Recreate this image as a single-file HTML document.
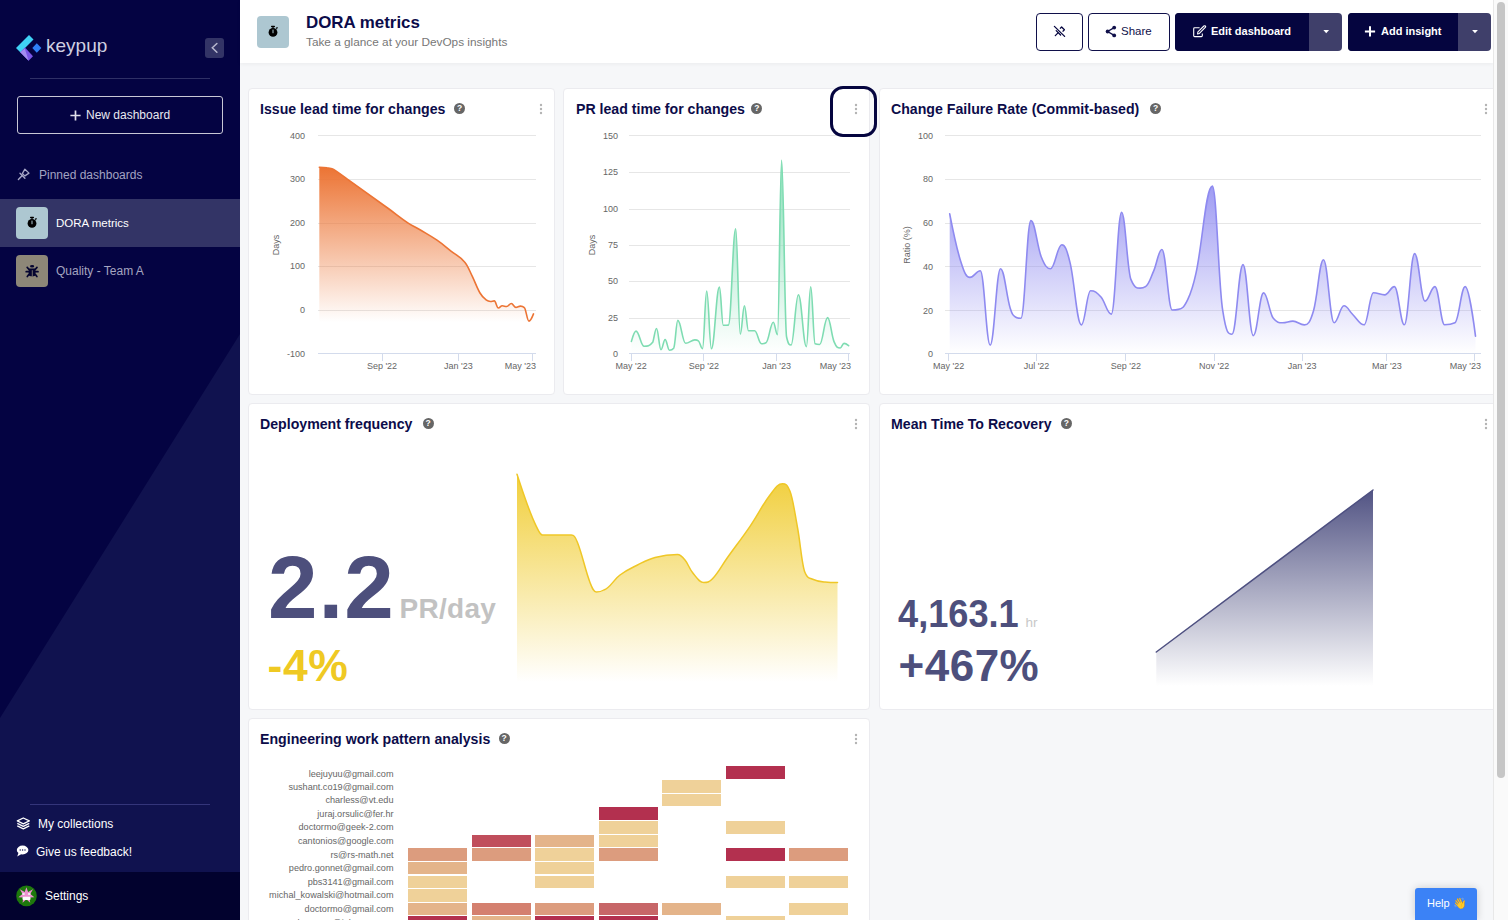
<!DOCTYPE html>
<html><head><meta charset="utf-8">
<style>
*{box-sizing:border-box;margin:0;padding:0}
html,body{width:1508px;height:920px;overflow:hidden;background:#f6f7f9;font-family:"Liberation Sans",sans-serif}
.a{position:absolute}
#sb{position:absolute;left:0;top:0;width:240px;height:920px;background:#040342;overflow:hidden}
.sbt{position:absolute;white-space:nowrap;font-size:12px;line-height:14px}
#hdr{position:absolute;left:240px;top:0;width:1253px;height:63px;background:#fff;box-shadow:0 1px 4px rgba(0,0,0,.05)}
.btn{position:absolute;top:13px;height:38px;border-radius:4px}
.card{position:absolute;background:#fff;border:1px solid #ebebef;border-radius:4px}
.ttl{position:absolute;white-space:nowrap;font-weight:bold;font-size:14.15px;color:#0c0c4a;line-height:16px}
.q{position:absolute;width:11px;height:11px;border-radius:50%;background:#666;color:#fff;font-size:8.5px;font-weight:bold;line-height:11px;text-align:center}
.lbl{position:absolute;font-size:9px;color:#666;white-space:nowrap;line-height:10px}
#scroll{position:absolute;left:1493px;top:0;width:15px;height:920px;background:#fafafa;border-left:1px solid #e8e8e8}
#thumb{position:absolute;left:1497px;top:2px;width:8px;height:776px;background:#c6c6c6;border-radius:4px}
.bt{position:absolute;top:25px;font-size:11px;line-height:13px;font-weight:bold;white-space:nowrap}
</style></head><body>

<!-- SIDEBAR -->
<div id="sb">
  <svg class="a" style="left:0;top:0" width="240" height="920">
    <polygon points="0,718 240,334 240,872 0,872" fill="#10124f"/>
  </svg>
  <!-- logo -->
  <svg class="a" style="left:0;top:0" width="120" height="70">
    <polygon points="16,48 29,35 33.5,39.5 20.5,52.5" fill="#3fd2f5"/>
    <polygon points="16,48 20.5,52.5 23,52 21,51 29,44 33.5,48.5 25,57" fill="none"/>
    <polygon points="16,48 25,57 29,53 20.5,44.5" fill="none"/>
    <polygon points="20.2,52.3 25,47.6 33,56.3 28.6,60.8" fill="#7a55e6"/>
    <polygon points="20.2,52.3 24.8,48.4 28.6,60.8" fill="#a48cf2"/>
    <polygon points="16,48 20.5,52.5 29,44 24.5,39.5" fill="#4fb8f2" opacity=".0"/>
    <polygon points="32.3,48 36.8,43.2 41.4,48 36.8,52.7" fill="#2f7ff6"/>
  </svg>
  <div class="sbt" style="left:46px;top:34px;font-size:19px;line-height:24px;color:#cfcfe0">keypup</div>
  <div class="a" style="left:205px;top:38px;width:19px;height:20px;background:#333466;border-radius:3px"></div>
  <svg class="a" style="left:205px;top:38px" width="19" height="20"><path d="M11.9 5.5 L7.3 9.8 L11.9 14.3" stroke="#b8b8cf" stroke-width="1.5" fill="none" stroke-linecap="round"/></svg>
  <div class="a" style="left:30px;top:78px;width:180px;height:1px;background:#2f3066"></div>
  <div class="a" style="left:17px;top:96px;width:206px;height:38px;border:1px solid #c8c8d6;border-radius:3px"></div>
  <svg class="a" style="left:69.5px;top:110px" width="12" height="12"><path d="M5.5 0.4 V10.6 M0.4 5.5 H10.6" stroke="#e0e0ea" stroke-width="1.7"/></svg>
  <div class="sbt" style="left:86px;top:108px;color:#e8e8f0">New dashboard</div>
  <svg class="a" style="left:16px;top:167px" width="16" height="16" viewBox="16 167 16 16">
    <path d="M18.4 179.5 L22 175.8" stroke="#a6a6c6" stroke-width="1.4" stroke-linecap="round"/>
    <path d="M20 173.3 L24.9 178.2" stroke="#a6a6c6" stroke-width="1.4" stroke-linecap="round"/>
    <path d="M22.3 173.6 L24.9 169.2 L29 173.1 L24.9 175.9 Z" stroke="#a6a6c6" stroke-width="1.3" fill="none" stroke-linejoin="round"/>
  </svg>
  <div class="sbt" style="left:39px;top:168px;color:#a3a3c2">Pinned dashboards</div>
  <div class="a" style="left:0;top:199px;width:240px;height:48px;background:#333466"></div>
  <div class="a" style="left:16px;top:207px;width:32px;height:32px;background:#adc7d1;border-radius:4px"></div>
  <svg class="a" style="left:16px;top:207px" width="32" height="32" viewBox="257 16 32 32">
    <circle cx="273" cy="32.4" r="4.4" fill="#000"/>
    <rect x="271" y="25.8" width="4" height="1.4" rx=".6" fill="#000"/>
    <rect x="272.4" y="26.5" width="1.2" height="2.5" fill="#000"/>
    <path d="M276 28.6 L277.6 27.4" stroke="#000" stroke-width="1.3"/>
    <rect x="272.5" y="29.6" width="1" height="3.6" fill="#adc7d1"/>
  </svg>
  <div class="sbt" style="left:56px;top:216px;color:#fff;font-size:11.5px">DORA metrics</div>
  <div class="a" style="left:16px;top:255px;width:32px;height:32px;background:#8d8778;border-radius:4px"></div>
  <svg class="a" style="left:16px;top:255px" width="32" height="32" viewBox="0 0 32 32">
    <ellipse cx="16.1" cy="11.3" rx="2.1" ry="1.2" fill="#050530"/>
    <path d="M12.6 13.6 H19.6 V19.2 Q19.6 21.3 17.6 21.3 H14.6 Q12.6 21.3 12.6 19.2 Z" fill="#050530"/>
    <path d="M12.8 14.2 L11.2 12.4 M19.4 14.2 L21 12.4 M12.4 16.7 H10.2 M19.8 16.7 H22 M12.8 19.6 L11.3 21.6 M19.4 19.6 L20.9 21.6" stroke="#050530" stroke-width="1.7" stroke-linecap="round"/>
    <path d="M16.3 15.2 V21.3" stroke="#6e6a66" stroke-width="1"/>
  </svg>
  <div class="sbt" style="left:56px;top:264px;color:#a5a5c0">Quality - Team A</div>
  <div class="a" style="left:30px;top:804px;width:180px;height:1px;background:#34357a"></div>
  <svg class="a" style="left:16px;top:817px" width="15" height="13" viewBox="0 0 15 13">
    <path d="M7.3 1 L13.3 3.9 L7.3 6.8 L1.3 3.9 Z" fill="none" stroke="#fff" stroke-width="1.3" stroke-linejoin="round"/>
    <path d="M1.3 6.4 L7.3 9.3 L13.3 6.4" fill="none" stroke="#fff" stroke-width="1.3" stroke-linejoin="round"/>
    <path d="M1.3 8.9 L7.3 11.8 L13.3 8.9" fill="none" stroke="#fff" stroke-width="1.3" stroke-linejoin="round"/>
  </svg>
  <div class="sbt" style="left:38px;top:817px;color:#fff">My collections</div>
  <svg class="a" style="left:16px;top:845px" width="14" height="13" viewBox="0 0 14 13">
    <ellipse cx="6.6" cy="5" rx="5.8" ry="4.4" fill="#fff"/>
    <path d="M2.6 7.5 L1.2 11.4 L5.6 9" fill="#fff"/>
    <circle cx="4.2" cy="5" r=".7" fill="#10124f"/><circle cx="6.6" cy="5" r=".7" fill="#10124f"/><circle cx="9" cy="5" r=".7" fill="#10124f"/>
  </svg>
  <div class="sbt" style="left:36px;top:845px;color:#fff">Give us feedback!</div>
  <div class="a" style="left:0;top:872px;width:240px;height:48px;background:#02022e"></div>
  <svg class="a" style="left:16px;top:885px" width="22" height="22" viewBox="16 885 22 22">
    <circle cx="26.5" cy="895.9" r="10.3" fill="#1d780c"/>
    <polygon points="26.4,887.2 28.1,892 33,889.2 30.3,894 34.4,897.2 29.6,897.5 30.2,902.8 26.4,899.2 22.6,902.8 23.2,897.5 18.4,897.2 22.5,894 19.8,889.2 24.7,892" fill="#ec90cf"/>
    <ellipse cx="23.5" cy="894" rx="1.4" ry="1" fill="#eef5ee"/>
    <ellipse cx="29.2" cy="894" rx="1.4" ry="1" fill="#eef5ee"/>
    <rect x="22.5" y="896.8" width="8" height="3.2" rx="1" fill="#fafafa"/>
  </svg>
  <div class="sbt" style="left:45px;top:889px;color:#fff">Settings</div>
</div>

<!-- HEADER -->
<div id="hdr">
  <div class="a" style="left:17px;top:16px;width:32px;height:32px;background:#adc7d1;border-radius:4px"></div>
  <svg class="a" style="left:17px;top:16px" width="32" height="32" viewBox="257 16 32 32">
    <circle cx="273" cy="32.4" r="4.4" fill="#000"/>
    <rect x="271" y="25.8" width="4" height="1.4" rx=".6" fill="#000"/>
    <rect x="272.4" y="26.5" width="1.2" height="2.5" fill="#000"/>
    <path d="M276 28.6 L277.6 27.4" stroke="#000" stroke-width="1.3"/>
    <rect x="272.5" y="29.6" width="1" height="3.6" fill="#adc7d1"/>
  </svg>
  <div class="a" style="left:66px;top:13px;font-size:16.9px;line-height:20px;font-weight:bold;color:#0c0c4a;white-space:nowrap">DORA metrics</div>
  <div class="a" style="left:66px;top:34.8px;font-size:11.8px;line-height:14px;color:#777;white-space:nowrap">Take a glance at your DevOps insights</div>
</div>
<div class="btn" style="left:1036px;width:47px;border:1.5px solid #10104a;background:#fff"></div>
<svg class="a" style="left:1052px;top:24px" width="16" height="16" viewBox="1052 24 16 16">
  <path d="M1054.4 26.4 L1064.6 36.4" stroke="#05053f" stroke-width="1.3" stroke-linecap="round"/>
  <path d="M1055.3 35.6 L1058 32.9" stroke="#05053f" stroke-width="1.3" stroke-linecap="round"/>
  <path d="M1056.2 30.6 L1060.6 35" stroke="#05053f" stroke-width="1.3" stroke-linecap="round"/>
  <path d="M1060 28.6 L1061.6 27 L1064.4 29.8 L1062.6 31.6" stroke="#05053f" stroke-width="1.3" fill="none" stroke-linejoin="round"/>
</svg>
<div class="btn" style="left:1088px;width:82px;border:1.5px solid #10104a;background:#fff"></div>
<svg class="a" style="left:1104px;top:24px" width="14" height="15" viewBox="1104 24 14 15">
  <path d="M1114.2 27.6 L1107.6 31.5 L1114.2 35.4" stroke="#10104a" stroke-width="1.4" fill="none"/>
  <circle cx="1114.2" cy="27.6" r="1.9" fill="#10104a"/><circle cx="1107.6" cy="31.5" r="1.9" fill="#10104a"/><circle cx="1114.2" cy="35.4" r="1.9" fill="#10104a"/>
</svg>
<div class="bt" style="left:1121px;color:#10104a;font-weight:normal;font-size:11.5px">Share</div>
<div class="btn" style="left:1175px;width:167px;background:#3f3f6a"></div>
<div class="btn" style="left:1175px;width:134px;background:#05053f;border-radius:4px 0 0 4px"></div>
<svg class="a" style="left:1191px;top:25px" width="16" height="14" viewBox="1191 25 16 14">
  <path d="M1199.6 27.8 H1194.6 Q1193.7 27.8 1193.7 28.7 V35.7 Q1193.7 36.6 1194.6 36.6 H1201.4 Q1202.3 36.6 1202.3 35.7 V33.4" stroke="#fff" stroke-width="1.1" fill="none"/>
  <path d="M1197.6 34 L1197.9 31.9 L1203.9 26 Q1204.6 25.4 1205.3 26 Q1206 26.7 1205.3 27.4 L1199.4 33.4 Z" stroke="#fff" stroke-width="1.1" fill="none" stroke-linejoin="round"/>
</svg>
<div class="bt" style="left:1211px;color:#fff">Edit dashboard</div>
<svg class="a" style="left:1321px;top:29px" width="10" height="6"><path d="M2.4 1 H8.1 L5.25 4.2 Z" fill="#fff"/></svg>
<div class="btn" style="left:1348px;width:143px;background:#3f3f6a"></div>
<div class="btn" style="left:1348px;width:110px;background:#05053f;border-radius:4px 0 0 4px"></div>
<svg class="a" style="left:1364px;top:26px" width="12" height="12"><path d="M6 0.3 V10.6 M0.9 5.45 H11.1" stroke="#fff" stroke-width="2"/></svg>
<div class="bt" style="left:1381px;color:#fff">Add insight</div>
<svg class="a" style="left:1470px;top:29px" width="10" height="6"><path d="M2.1 1 H7.9 L5 4.3 Z" fill="#fff"/></svg>

<!-- CARDS -->
<div class="card" style="left:248px;top:88px;width:307px;height:307px"></div>
<div class="card" style="left:563px;top:88px;width:307px;height:307px"></div>
<div class="card" style="left:879px;top:88px;width:621px;height:307px"></div>
<div class="card" style="left:248px;top:403px;width:622px;height:307px"></div>
<div class="card" style="left:879px;top:403px;width:621px;height:307px"></div>
<div class="card" style="left:248px;top:718px;width:622px;height:260px"></div>

<div class="ttl" style="left:260px;top:101px">Issue lead time for changes</div>
<div class="ttl" style="left:576px;top:101px">PR lead time for changes</div>
<div class="ttl" style="left:891px;top:101px">Change Failure Rate (Commit-based)</div>
<div class="ttl" style="left:260px;top:416px">Deployment frequency</div>
<div class="ttl" style="left:891px;top:416px">Mean Time To Recovery</div>
<div class="ttl" style="left:260px;top:731px">Engineering work pattern analysis</div>

<div class="a" style="left:318px;top:135px;width:218px;height:1px;background:#e6e6e6"></div><div class="a" style="left:318px;top:179px;width:218px;height:1px;background:#e6e6e6"></div><div class="a" style="left:318px;top:223px;width:218px;height:1px;background:#e6e6e6"></div><div class="a" style="left:318px;top:266px;width:218px;height:1px;background:#e6e6e6"></div><div class="a" style="left:318px;top:310px;width:218px;height:1px;background:#e6e6e6"></div><div class="a" style="left:318px;top:353px;width:218px;height:1px;background:#d3dbec"></div><div class="a" style="left:382px;top:354px;width:1px;height:7px;background:#d3dbec"></div><div class="a" style="left:458px;top:354px;width:1px;height:7px;background:#d3dbec"></div><div class="a" style="left:532px;top:354px;width:1px;height:7px;background:#d3dbec"></div><div class="lbl" style="right:1203px;top:130.7px;text-align:right">400</div><div class="lbl" style="right:1203px;top:174.1px;text-align:right">300</div><div class="lbl" style="right:1203px;top:218.0px;text-align:right">200</div><div class="lbl" style="right:1203px;top:261.4px;text-align:right">100</div><div class="lbl" style="right:1203px;top:305.3px;text-align:right">0</div><div class="lbl" style="right:1203px;top:348.7px;text-align:right">-100</div><div class="lbl" style="left:382.0px;top:360.7px;width:60px;margin-left:-30px;text-align:center">Sep '22</div><div class="lbl" style="left:458.3px;top:360.7px;width:60px;margin-left:-30px;text-align:center">Jan '23</div><div class="lbl" style="right:972.0px;top:360.7px;text-align:right">May '23</div><div class="lbl" style="left:276px;top:245px;transform:translate(-50%,-50%) rotate(-90deg)">Days</div><svg class="a" style="left:310px;top:150px" width="230" height="180" viewBox="310 150 230 180"><defs><linearGradient id="g1" x1="0" y1="167.3" x2="0" y2="322.0" gradientUnits="userSpaceOnUse"><stop offset="0" stop-color="#ec7434" stop-opacity="1"/><stop offset="1" stop-color="#ec7434" stop-opacity="0"/></linearGradient></defs><path d="M319.3 167.3 C319.3 167.3 323.9 167.4 327.0 167.8 C329.0 168.0 330.0 168.1 332.0 168.8 C333.4 169.3 334.1 169.7 335.5 170.6 C340.9 174.3 343.7 176.4 349.1 180.3 C364.8 191.6 372.6 197.1 388.3 208.5 C396.1 214.1 400.0 217.6 407.8 222.8 C412.7 226.1 415.1 226.9 420.0 229.8 C426.8 233.9 430.2 235.5 437.0 240.2 C442.7 244.1 445.6 246.8 451.3 251.3 C456.8 255.6 459.5 255.9 465.0 262.4 C467.9 265.8 469.3 270.2 472.2 276.1 C475.3 282.5 476.9 287.7 480.0 293.0 C482.6 297.4 483.9 298.1 486.5 300.2 C488.1 301.5 488.8 301.5 490.4 301.5 C492.0 301.5 492.7 300.9 494.3 300.9 C495.9 300.9 496.7 308.0 498.3 308.0 C499.9 308.0 500.6 305.8 502.2 305.8 C504.0 305.8 504.9 306.5 506.7 306.5 C508.5 306.5 509.5 303.5 511.3 303.5 C513.1 303.5 514.1 307.4 515.9 307.4 C517.7 307.4 518.6 306.1 520.4 306.1 C522.0 306.1 522.7 306.1 524.3 307.6 C526.1 309.1 527.1 321.1 528.9 321.1 C530.7 321.1 533.5 313.9 533.5 313.9 L533.5 322.0 L319.3 322.0 Z" fill="url(#g1)"/><path d="M319.3 167.3 C319.3 167.3 323.9 167.4 327.0 167.8 C329.0 168.0 330.0 168.1 332.0 168.8 C333.4 169.3 334.1 169.7 335.5 170.6 C340.9 174.3 343.7 176.4 349.1 180.3 C364.8 191.6 372.6 197.1 388.3 208.5 C396.1 214.1 400.0 217.6 407.8 222.8 C412.7 226.1 415.1 226.9 420.0 229.8 C426.8 233.9 430.2 235.5 437.0 240.2 C442.7 244.1 445.6 246.8 451.3 251.3 C456.8 255.6 459.5 255.9 465.0 262.4 C467.9 265.8 469.3 270.2 472.2 276.1 C475.3 282.5 476.9 287.7 480.0 293.0 C482.6 297.4 483.9 298.1 486.5 300.2 C488.1 301.5 488.8 301.5 490.4 301.5 C492.0 301.5 492.7 300.9 494.3 300.9 C495.9 300.9 496.7 308.0 498.3 308.0 C499.9 308.0 500.6 305.8 502.2 305.8 C504.0 305.8 504.9 306.5 506.7 306.5 C508.5 306.5 509.5 303.5 511.3 303.5 C513.1 303.5 514.1 307.4 515.9 307.4 C517.7 307.4 518.6 306.1 520.4 306.1 C522.0 306.1 522.7 306.1 524.3 307.6 C526.1 309.1 527.1 321.1 528.9 321.1 C530.7 321.1 533.5 313.9 533.5 313.9" fill="none" stroke="#ec7434" stroke-width="1.6" stroke-linejoin="round" stroke-linecap="round"/></svg><div class="a" style="left:629px;top:135px;width:221px;height:1px;background:#e6e6e6"></div><div class="a" style="left:629px;top:172px;width:221px;height:1px;background:#e6e6e6"></div><div class="a" style="left:629px;top:209px;width:221px;height:1px;background:#e6e6e6"></div><div class="a" style="left:629px;top:245px;width:221px;height:1px;background:#e6e6e6"></div><div class="a" style="left:629px;top:281px;width:221px;height:1px;background:#e6e6e6"></div><div class="a" style="left:629px;top:318px;width:221px;height:1px;background:#e6e6e6"></div><div class="a" style="left:629px;top:353px;width:221px;height:1px;background:#d3dbec"></div><div class="a" style="left:631px;top:354px;width:1px;height:7px;background:#d3dbec"></div><div class="a" style="left:703px;top:354px;width:1px;height:7px;background:#d3dbec"></div><div class="a" style="left:776px;top:354px;width:1px;height:7px;background:#d3dbec"></div><div class="a" style="left:848px;top:354px;width:1px;height:7px;background:#d3dbec"></div><div class="lbl" style="right:890px;top:130.7px;text-align:right">150</div><div class="lbl" style="right:890px;top:166.6px;text-align:right">125</div><div class="lbl" style="right:890px;top:203.9px;text-align:right">100</div><div class="lbl" style="right:890px;top:239.9px;text-align:right">75</div><div class="lbl" style="right:890px;top:276.2px;text-align:right">50</div><div class="lbl" style="right:890px;top:312.8px;text-align:right">25</div><div class="lbl" style="right:890px;top:348.7px;text-align:right">0</div><div class="lbl" style="left:631.2px;top:360.7px;width:60px;margin-left:-30px;text-align:center">May '22</div><div class="lbl" style="left:703.8px;top:360.7px;width:60px;margin-left:-30px;text-align:center">Sep '22</div><div class="lbl" style="left:776.7px;top:360.7px;width:60px;margin-left:-30px;text-align:center">Jan '23</div><div class="lbl" style="right:657.0px;top:360.7px;text-align:right">May '23</div><div class="lbl" style="left:591.5px;top:245px;transform:translate(-50%,-50%) rotate(-90deg)">Days</div><svg class="a" style="left:620px;top:150px" width="240" height="210" viewBox="620 150 240 210"><defs><linearGradient id="g2" x1="0" y1="160.3" x2="0" y2="353.5" gradientUnits="userSpaceOnUse"><stop offset="0" stop-color="#7edcb2" stop-opacity="0.9"/><stop offset="1" stop-color="#7edcb2" stop-opacity="0"/></linearGradient></defs><path d="M631.4 341.4 C631.4 341.4 634.2 331.1 636.0 331.1 C639.2 331.1 640.9 346.3 644.1 346.3 C647.6 346.3 649.4 346.3 652.9 341.9 C654.3 337.5 655.1 328.5 656.5 328.5 C658.3 328.5 659.2 349.7 661.0 349.7 C662.6 349.7 663.5 339.6 665.1 339.6 C666.9 339.6 667.7 350.2 669.5 350.2 C671.2 350.2 672.0 350.2 673.7 348.2 C675.3 346.2 676.2 320.4 677.8 320.4 C680.9 320.4 682.5 343.3 685.6 343.3 C689.3 343.3 691.2 339.9 694.9 339.9 C696.3 339.9 697.0 339.9 698.4 340.9 C700.0 341.9 700.9 348.7 702.5 348.7 C704.2 348.7 705.0 291.0 706.7 291.0 C708.6 291.0 709.5 348.7 711.4 348.7 C714.6 348.7 716.2 287.1 719.4 287.1 C721.0 287.1 721.7 325.3 723.3 325.3 C725.3 325.3 726.4 325.3 728.4 325.1 C731.3 324.9 732.8 228.7 735.7 228.7 C737.5 228.7 738.5 334.3 740.3 334.3 C741.9 334.3 742.8 305.8 744.4 305.8 C746.0 305.8 746.9 330.8 748.5 330.8 C750.9 330.8 752.2 330.8 754.6 330.8 C757.4 330.8 758.7 343.8 761.5 343.8 C763.3 343.8 764.2 343.8 766.0 342.7 C768.9 341.6 770.4 322.2 773.3 322.2 C775.0 322.2 775.8 334.7 777.5 334.7 C779.1 334.7 780.0 160.3 781.6 160.3 C783.6 160.3 784.6 329.0 786.6 337.0 C788.4 345.0 789.3 345.0 791.1 345.0 C794.0 345.0 795.5 294.8 798.4 294.8 C801.6 294.8 803.2 346.6 806.4 346.6 C808.1 346.6 809.0 286.8 810.7 286.8 C812.5 286.8 813.3 343.1 815.1 343.8 C816.9 344.5 817.8 344.5 819.6 344.5 C822.8 344.5 824.4 317.6 827.6 317.6 C830.2 317.6 831.4 335.4 834.0 341.6 C836.5 347.6 837.7 348.0 840.2 348.0 C841.7 348.0 842.5 343.4 844.0 343.4 C845.8 343.4 848.6 345.7 848.6 345.7 L848.6 353.5 L631.4 353.5 Z" fill="url(#g2)"/><path d="M631.4 341.4 C631.4 341.4 634.2 331.1 636.0 331.1 C639.2 331.1 640.9 346.3 644.1 346.3 C647.6 346.3 649.4 346.3 652.9 341.9 C654.3 337.5 655.1 328.5 656.5 328.5 C658.3 328.5 659.2 349.7 661.0 349.7 C662.6 349.7 663.5 339.6 665.1 339.6 C666.9 339.6 667.7 350.2 669.5 350.2 C671.2 350.2 672.0 350.2 673.7 348.2 C675.3 346.2 676.2 320.4 677.8 320.4 C680.9 320.4 682.5 343.3 685.6 343.3 C689.3 343.3 691.2 339.9 694.9 339.9 C696.3 339.9 697.0 339.9 698.4 340.9 C700.0 341.9 700.9 348.7 702.5 348.7 C704.2 348.7 705.0 291.0 706.7 291.0 C708.6 291.0 709.5 348.7 711.4 348.7 C714.6 348.7 716.2 287.1 719.4 287.1 C721.0 287.1 721.7 325.3 723.3 325.3 C725.3 325.3 726.4 325.3 728.4 325.1 C731.3 324.9 732.8 228.7 735.7 228.7 C737.5 228.7 738.5 334.3 740.3 334.3 C741.9 334.3 742.8 305.8 744.4 305.8 C746.0 305.8 746.9 330.8 748.5 330.8 C750.9 330.8 752.2 330.8 754.6 330.8 C757.4 330.8 758.7 343.8 761.5 343.8 C763.3 343.8 764.2 343.8 766.0 342.7 C768.9 341.6 770.4 322.2 773.3 322.2 C775.0 322.2 775.8 334.7 777.5 334.7 C779.1 334.7 780.0 160.3 781.6 160.3 C783.6 160.3 784.6 329.0 786.6 337.0 C788.4 345.0 789.3 345.0 791.1 345.0 C794.0 345.0 795.5 294.8 798.4 294.8 C801.6 294.8 803.2 346.6 806.4 346.6 C808.1 346.6 809.0 286.8 810.7 286.8 C812.5 286.8 813.3 343.1 815.1 343.8 C816.9 344.5 817.8 344.5 819.6 344.5 C822.8 344.5 824.4 317.6 827.6 317.6 C830.2 317.6 831.4 335.4 834.0 341.6 C836.5 347.6 837.7 348.0 840.2 348.0 C841.7 348.0 842.5 343.4 844.0 343.4 C845.8 343.4 848.6 345.7 848.6 345.7" fill="none" stroke="#7edcb2" stroke-width="1.6" stroke-linejoin="round" stroke-linecap="round"/></svg><div class="a" style="left:945px;top:135px;width:536px;height:1px;background:#e6e6e6"></div><div class="a" style="left:945px;top:179px;width:536px;height:1px;background:#e6e6e6"></div><div class="a" style="left:945px;top:223px;width:536px;height:1px;background:#e6e6e6"></div><div class="a" style="left:945px;top:266px;width:536px;height:1px;background:#e6e6e6"></div><div class="a" style="left:945px;top:310px;width:536px;height:1px;background:#e6e6e6"></div><div class="a" style="left:945px;top:353px;width:536px;height:1px;background:#d3dbec"></div><div class="a" style="left:948px;top:354px;width:1px;height:7px;background:#d3dbec"></div><div class="a" style="left:1036px;top:354px;width:1px;height:7px;background:#d3dbec"></div><div class="a" style="left:1125px;top:354px;width:1px;height:7px;background:#d3dbec"></div><div class="a" style="left:1214px;top:354px;width:1px;height:7px;background:#d3dbec"></div><div class="a" style="left:1302px;top:354px;width:1px;height:7px;background:#d3dbec"></div><div class="a" style="left:1386px;top:354px;width:1px;height:7px;background:#d3dbec"></div><div class="a" style="left:1474px;top:354px;width:1px;height:7px;background:#d3dbec"></div><div class="lbl" style="right:575px;top:130.7px;text-align:right">100</div><div class="lbl" style="right:575px;top:174.2px;text-align:right">80</div><div class="lbl" style="right:575px;top:217.8px;text-align:right">60</div><div class="lbl" style="right:575px;top:261.5px;text-align:right">40</div><div class="lbl" style="right:575px;top:305.5px;text-align:right">20</div><div class="lbl" style="right:575px;top:348.6px;text-align:right">0</div><div class="lbl" style="left:948.6px;top:360.7px;width:60px;margin-left:-30px;text-align:center">May '22</div><div class="lbl" style="left:1036.5px;top:360.7px;width:60px;margin-left:-30px;text-align:center">Jul '22</div><div class="lbl" style="left:1125.9px;top:360.7px;width:60px;margin-left:-30px;text-align:center">Sep '22</div><div class="lbl" style="left:1214.2px;top:360.7px;width:60px;margin-left:-30px;text-align:center">Nov '22</div><div class="lbl" style="left:1302.2px;top:360.7px;width:60px;margin-left:-30px;text-align:center">Jan '23</div><div class="lbl" style="left:1386.8px;top:360.7px;width:60px;margin-left:-30px;text-align:center">Mar '23</div><div class="lbl" style="right:27.0px;top:360.7px;text-align:right">May '23</div><div class="lbl" style="left:906.5px;top:245px;transform:translate(-50%,-50%) rotate(-90deg)">Ratio (%)</div><svg class="a" style="left:940px;top:170px" width="545" height="190" viewBox="940 170 545 190"><defs><linearGradient id="g3" x1="0" y1="186.1" x2="0" y2="353.5" gradientUnits="userSpaceOnUse"><stop offset="0" stop-color="#8e8af0" stop-opacity="0.85"/><stop offset="1" stop-color="#8e8af0" stop-opacity="0"/></linearGradient></defs><path d="M949.7 213.8 C949.7 213.8 956.2 247.2 960.6 260.9 C964.3 272.6 966.2 277.4 969.9 277.4 C974.1 277.4 976.1 270.8 980.3 270.8 C984.3 270.8 986.2 345.1 990.2 345.1 C994.3 345.1 996.4 268.7 1000.5 268.7 C1004.4 268.7 1006.3 295.7 1010.2 308.3 C1012.3 315.0 1013.3 315.7 1015.4 317.0 C1017.6 318.3 1018.7 318.3 1020.9 318.3 C1024.9 318.3 1026.9 220.6 1030.9 220.6 C1035.0 220.6 1037.1 246.6 1041.2 256.7 C1044.9 265.8 1046.8 268.7 1050.5 268.7 C1055.0 268.7 1057.3 244.7 1061.8 244.7 C1065.1 244.7 1066.8 249.3 1070.1 262.9 C1074.6 281.4 1076.9 324.9 1081.4 324.9 C1085.1 324.9 1086.9 290.8 1090.6 290.8 C1094.8 290.8 1096.8 292.3 1101.0 297.0 C1105.1 301.6 1107.2 314.1 1111.3 314.1 C1115.4 314.1 1117.5 212.3 1121.6 212.3 C1125.3 212.3 1127.2 270.7 1130.9 279.4 C1134.6 288.1 1136.5 288.1 1140.2 288.1 C1142.3 288.1 1143.3 288.1 1145.4 286.7 C1148.7 285.3 1150.3 278.6 1153.6 271.2 C1156.9 263.7 1158.6 249.5 1161.9 249.5 C1166.0 249.5 1168.1 310.0 1172.2 310.0 C1174.7 310.0 1175.9 310.0 1178.4 309.4 C1182.1 308.8 1184.0 307.4 1187.7 299.7 C1191.0 292.9 1192.7 288.5 1196.0 273.2 C1202.6 243.0 1205.8 186.1 1212.4 186.1 C1216.5 186.1 1218.6 286.6 1222.7 310.4 C1226.4 334.2 1228.3 334.2 1232.0 334.2 C1236.4 334.2 1238.6 264.6 1243.0 264.6 C1247.1 264.6 1249.2 335.6 1253.3 335.6 C1257.4 335.6 1259.5 292.9 1263.6 292.9 C1267.5 292.9 1269.4 313.8 1273.3 318.3 C1277.0 322.8 1278.9 322.8 1282.6 322.8 C1286.7 322.8 1288.8 321.1 1292.9 321.1 C1297.5 321.1 1299.7 324.9 1304.3 324.9 C1308.0 324.9 1309.9 323.0 1313.6 310.4 C1317.6 297.0 1319.5 259.8 1323.5 259.8 C1327.7 259.8 1329.9 322.8 1334.1 322.8 C1338.1 322.8 1340.0 305.8 1344.0 305.8 C1347.5 305.8 1349.2 311.2 1352.7 314.5 C1357.3 318.8 1359.5 324.8 1364.1 324.8 C1367.8 324.8 1369.7 292.8 1373.4 292.8 C1377.9 292.8 1380.2 294.9 1384.7 294.9 C1388.6 294.9 1390.5 286.6 1394.4 286.6 C1398.4 286.6 1400.3 324.8 1404.3 324.8 C1408.4 324.8 1410.5 253.6 1414.6 253.6 C1418.8 253.6 1420.8 301.1 1425.0 301.1 C1429.0 301.1 1430.9 286.6 1434.9 286.6 C1438.8 286.6 1440.7 324.8 1444.6 324.8 C1448.7 324.8 1450.8 324.8 1454.9 322.8 C1459.0 320.8 1461.1 286.6 1465.2 286.6 C1469.3 286.6 1475.5 336.2 1475.5 336.2 L1475.5 353.5 L949.7 353.5 Z" fill="url(#g3)"/><path d="M949.7 213.8 C949.7 213.8 956.2 247.2 960.6 260.9 C964.3 272.6 966.2 277.4 969.9 277.4 C974.1 277.4 976.1 270.8 980.3 270.8 C984.3 270.8 986.2 345.1 990.2 345.1 C994.3 345.1 996.4 268.7 1000.5 268.7 C1004.4 268.7 1006.3 295.7 1010.2 308.3 C1012.3 315.0 1013.3 315.7 1015.4 317.0 C1017.6 318.3 1018.7 318.3 1020.9 318.3 C1024.9 318.3 1026.9 220.6 1030.9 220.6 C1035.0 220.6 1037.1 246.6 1041.2 256.7 C1044.9 265.8 1046.8 268.7 1050.5 268.7 C1055.0 268.7 1057.3 244.7 1061.8 244.7 C1065.1 244.7 1066.8 249.3 1070.1 262.9 C1074.6 281.4 1076.9 324.9 1081.4 324.9 C1085.1 324.9 1086.9 290.8 1090.6 290.8 C1094.8 290.8 1096.8 292.3 1101.0 297.0 C1105.1 301.6 1107.2 314.1 1111.3 314.1 C1115.4 314.1 1117.5 212.3 1121.6 212.3 C1125.3 212.3 1127.2 270.7 1130.9 279.4 C1134.6 288.1 1136.5 288.1 1140.2 288.1 C1142.3 288.1 1143.3 288.1 1145.4 286.7 C1148.7 285.3 1150.3 278.6 1153.6 271.2 C1156.9 263.7 1158.6 249.5 1161.9 249.5 C1166.0 249.5 1168.1 310.0 1172.2 310.0 C1174.7 310.0 1175.9 310.0 1178.4 309.4 C1182.1 308.8 1184.0 307.4 1187.7 299.7 C1191.0 292.9 1192.7 288.5 1196.0 273.2 C1202.6 243.0 1205.8 186.1 1212.4 186.1 C1216.5 186.1 1218.6 286.6 1222.7 310.4 C1226.4 334.2 1228.3 334.2 1232.0 334.2 C1236.4 334.2 1238.6 264.6 1243.0 264.6 C1247.1 264.6 1249.2 335.6 1253.3 335.6 C1257.4 335.6 1259.5 292.9 1263.6 292.9 C1267.5 292.9 1269.4 313.8 1273.3 318.3 C1277.0 322.8 1278.9 322.8 1282.6 322.8 C1286.7 322.8 1288.8 321.1 1292.9 321.1 C1297.5 321.1 1299.7 324.9 1304.3 324.9 C1308.0 324.9 1309.9 323.0 1313.6 310.4 C1317.6 297.0 1319.5 259.8 1323.5 259.8 C1327.7 259.8 1329.9 322.8 1334.1 322.8 C1338.1 322.8 1340.0 305.8 1344.0 305.8 C1347.5 305.8 1349.2 311.2 1352.7 314.5 C1357.3 318.8 1359.5 324.8 1364.1 324.8 C1367.8 324.8 1369.7 292.8 1373.4 292.8 C1377.9 292.8 1380.2 294.9 1384.7 294.9 C1388.6 294.9 1390.5 286.6 1394.4 286.6 C1398.4 286.6 1400.3 324.8 1404.3 324.8 C1408.4 324.8 1410.5 253.6 1414.6 253.6 C1418.8 253.6 1420.8 301.1 1425.0 301.1 C1429.0 301.1 1430.9 286.6 1434.9 286.6 C1438.8 286.6 1440.7 324.8 1444.6 324.8 C1448.7 324.8 1450.8 324.8 1454.9 322.8 C1459.0 320.8 1461.1 286.6 1465.2 286.6 C1469.3 286.6 1475.5 336.2 1475.5 336.2" fill="none" stroke="#8e8af0" stroke-width="1.6" stroke-linejoin="round" stroke-linecap="round"/></svg><svg class="a" style="left:510px;top:465px" width="335" height="225" viewBox="510 465 335 225"><defs><linearGradient id="g4" x1="0" y1="474.3" x2="0" y2="682.0" gradientUnits="userSpaceOnUse"><stop offset="0" stop-color="#f0cc30" stop-opacity="0.95"/><stop offset="1" stop-color="#f0cc30" stop-opacity="0"/></linearGradient></defs><path d="M517.0 474.3 C517.0 474.3 523.3 493.7 527.5 505.0 C531.0 514.5 532.8 519.3 536.3 526.3 C538.8 531.3 540.0 535.0 542.5 535.0 C554.0 535.0 559.8 535.0 571.3 535.0 C573.8 535.0 575.0 536.2 577.5 542.5 C582.5 555.2 585.0 569.3 590.0 582.5 C592.5 589.1 593.8 592.0 596.3 592.0 C599.3 592.0 600.8 592.0 603.8 590.0 C610.3 588.0 613.5 579.8 620.0 575.0 C627.0 569.8 630.5 568.5 637.5 565.0 C644.5 561.5 648.0 559.3 655.0 557.5 C664.0 555.1 668.5 554.5 677.5 554.5 C680.5 554.5 682.0 556.4 685.0 560.0 C688.0 563.6 689.5 568.9 692.5 572.5 C697.0 577.9 699.3 582.5 703.8 582.5 C707.3 582.5 709.0 582.5 712.5 578.8 C718.5 572.5 721.5 565.9 727.5 557.5 C736.5 544.9 741.0 539.5 750.0 526.3 C758.0 514.5 762.0 505.5 770.0 495.0 C775.0 488.5 777.5 483.8 782.5 483.8 C785.5 483.8 787.0 483.8 790.0 491.3 C793.0 498.8 794.5 511.3 797.5 527.5 C800.5 543.7 802.0 566.2 805.0 572.5 C807.5 578.8 808.8 577.6 811.3 578.8 C816.8 581.4 819.5 581.5 825.0 582.0 C830.0 582.5 837.5 582.5 837.5 582.5 L837.5 682.0 L517.0 682.0 Z" fill="url(#g4)"/><path d="M517.0 474.3 C517.0 474.3 523.3 493.7 527.5 505.0 C531.0 514.5 532.8 519.3 536.3 526.3 C538.8 531.3 540.0 535.0 542.5 535.0 C554.0 535.0 559.8 535.0 571.3 535.0 C573.8 535.0 575.0 536.2 577.5 542.5 C582.5 555.2 585.0 569.3 590.0 582.5 C592.5 589.1 593.8 592.0 596.3 592.0 C599.3 592.0 600.8 592.0 603.8 590.0 C610.3 588.0 613.5 579.8 620.0 575.0 C627.0 569.8 630.5 568.5 637.5 565.0 C644.5 561.5 648.0 559.3 655.0 557.5 C664.0 555.1 668.5 554.5 677.5 554.5 C680.5 554.5 682.0 556.4 685.0 560.0 C688.0 563.6 689.5 568.9 692.5 572.5 C697.0 577.9 699.3 582.5 703.8 582.5 C707.3 582.5 709.0 582.5 712.5 578.8 C718.5 572.5 721.5 565.9 727.5 557.5 C736.5 544.9 741.0 539.5 750.0 526.3 C758.0 514.5 762.0 505.5 770.0 495.0 C775.0 488.5 777.5 483.8 782.5 483.8 C785.5 483.8 787.0 483.8 790.0 491.3 C793.0 498.8 794.5 511.3 797.5 527.5 C800.5 543.7 802.0 566.2 805.0 572.5 C807.5 578.8 808.8 577.6 811.3 578.8 C816.8 581.4 819.5 581.5 825.0 582.0 C830.0 582.5 837.5 582.5 837.5 582.5" fill="none" stroke="#efc727" stroke-width="1.5" stroke-linejoin="round" stroke-linecap="round"/></svg><svg class="a" style="left:1150px;top:480px" width="230" height="210" viewBox="1150 480 230 210"><defs><linearGradient id="g5" x1="0" y1="490.0" x2="0" y2="686.0" gradientUnits="userSpaceOnUse"><stop offset="0" stop-color="#4e5081" stop-opacity="0.98"/><stop offset="1" stop-color="#4e5081" stop-opacity="0"/></linearGradient></defs><path d="M1156.3 652.0 L1373.0 490.0 L1373.0 686.0 L1156.3 686.0 Z" fill="url(#g5)"/><path d="M1156.3 652.0 L1373.0 490.0" fill="none" stroke="#4e5081" stroke-width="1.5" stroke-linejoin="round" stroke-linecap="round"/></svg>
<div class="q" style="left:454.1px;top:102.8px">?</div><div class="q" style="left:751.3px;top:102.8px">?</div><div class="q" style="left:1150.1px;top:102.8px">?</div><div class="q" style="left:422.5px;top:418.0px">?</div><div class="q" style="left:1060.8px;top:418.0px">?</div><div class="q" style="left:498.5px;top:733.0px">?</div><svg class="a" style="left:539.0px;top:102.5px" width="4" height="12"><circle cx="2" cy="2" r="1.2" fill="#b4b4b4"/><circle cx="2" cy="6" r="1.2" fill="#b4b4b4"/><circle cx="2" cy="10" r="1.2" fill="#b4b4b4"/></svg><svg class="a" style="left:854.0px;top:102.5px" width="4" height="12"><circle cx="2" cy="2" r="1.2" fill="#b4b4b4"/><circle cx="2" cy="6" r="1.2" fill="#b4b4b4"/><circle cx="2" cy="10" r="1.2" fill="#b4b4b4"/></svg><svg class="a" style="left:1484.3px;top:102.5px" width="4" height="12"><circle cx="2" cy="2" r="1.2" fill="#b4b4b4"/><circle cx="2" cy="6" r="1.2" fill="#b4b4b4"/><circle cx="2" cy="10" r="1.2" fill="#b4b4b4"/></svg><svg class="a" style="left:853.8px;top:417.5px" width="4" height="12"><circle cx="2" cy="2" r="1.2" fill="#b4b4b4"/><circle cx="2" cy="6" r="1.2" fill="#b4b4b4"/><circle cx="2" cy="10" r="1.2" fill="#b4b4b4"/></svg><svg class="a" style="left:1483.8px;top:417.5px" width="4" height="12"><circle cx="2" cy="2" r="1.2" fill="#b4b4b4"/><circle cx="2" cy="6" r="1.2" fill="#b4b4b4"/><circle cx="2" cy="10" r="1.2" fill="#b4b4b4"/></svg><svg class="a" style="left:853.8px;top:732.5px" width="4" height="12"><circle cx="2" cy="2" r="1.2" fill="#b4b4b4"/><circle cx="2" cy="6" r="1.2" fill="#b4b4b4"/><circle cx="2" cy="10" r="1.2" fill="#b4b4b4"/></svg><div class="a" style="left:830px;top:86px;width:47px;height:51px;border:3.6px solid #05053f;border-radius:13px"></div><div class="a" style="left:268px;top:537px;font-size:89px;line-height:100px;font-weight:bold;color:#4d4f7c;white-space:nowrap;letter-spacing:1px">2.2</div><div class="a" style="left:399.5px;top:592.5px;font-size:28px;line-height:32px;font-weight:bold;color:#c2c2c2;white-space:nowrap;letter-spacing:0.3px">PR/day</div><div class="a" style="left:267.5px;top:640.8px;font-size:44.5px;line-height:50px;font-weight:bold;color:#efc923;white-space:nowrap;letter-spacing:0.6px">-4%</div><div class="a" style="left:898px;top:592px;font-size:38.5px;line-height:44px;font-weight:bold;color:#4d4f7c;white-space:nowrap;transform-origin:0 0;transform:scaleX(0.94)">4,163.1</div><div class="a" style="left:1025.5px;top:616px;font-size:13.5px;line-height:14px;color:#c8c8c8;white-space:nowrap">hr</div><div class="a" style="left:898.5px;top:641px;font-size:44px;line-height:50px;font-weight:bold;color:#4d4f7c;white-space:nowrap;letter-spacing:0.5px">+467%</div><div class="lbl" style="right:1114.5px;top:769.3px;text-align:right;font-size:9.15px">leejuyuu@gmail.com</div><div class="lbl" style="right:1114.5px;top:782.4px;text-align:right;font-size:9.15px">sushant.co19@gmail.com</div><div class="lbl" style="right:1114.5px;top:795.4px;text-align:right;font-size:9.15px">charless@vt.edu</div><div class="lbl" style="right:1114.5px;top:809.3px;text-align:right;font-size:9.15px">juraj.orsulic@fer.hr</div><div class="lbl" style="right:1114.5px;top:822.4px;text-align:right;font-size:9.15px">doctormo@geek-2.com</div><div class="lbl" style="right:1114.5px;top:836.3px;text-align:right;font-size:9.15px">cantonios@google.com</div><div class="lbl" style="right:1114.5px;top:850.2px;text-align:right;font-size:9.15px">rs@rs-math.net</div><div class="lbl" style="right:1114.5px;top:863.2px;text-align:right;font-size:9.15px">pedro.gonnet@gmail.com</div><div class="lbl" style="right:1114.5px;top:877.1px;text-align:right;font-size:9.15px">pbs3141@gmail.com</div><div class="lbl" style="right:1114.5px;top:890.2px;text-align:right;font-size:9.15px">michal_kowalski@hotmail.com</div><div class="lbl" style="right:1114.5px;top:904.1px;text-align:right;font-size:9.15px">doctormo@gmail.com</div><div class="lbl" style="right:1114.5px;top:917.9px;text-align:right;font-size:9.15px">doctormo@inkscape.org</div><div class="a" style="left:725.8px;top:766.4px;width:59px;height:12.6px;background:#b3304f"></div><div class="a" style="left:662.2px;top:780.0px;width:59px;height:12.6px;background:#efd199"></div><div class="a" style="left:662.2px;top:793.7px;width:59px;height:12.6px;background:#efd199"></div><div class="a" style="left:598.6px;top:807.3px;width:59px;height:12.6px;background:#b3304f"></div><div class="a" style="left:598.6px;top:821.0px;width:59px;height:12.6px;background:#efd199"></div><div class="a" style="left:725.8px;top:821.0px;width:59px;height:12.6px;background:#efd199"></div><div class="a" style="left:471.5px;top:834.6px;width:59px;height:12.6px;background:#c04e5c"></div><div class="a" style="left:535.0px;top:834.6px;width:59px;height:12.6px;background:#e4b48a"></div><div class="a" style="left:598.6px;top:834.6px;width:59px;height:12.6px;background:#efd199"></div><div class="a" style="left:407.9px;top:848.2px;width:59px;height:12.6px;background:#dc9c7e"></div><div class="a" style="left:471.5px;top:848.2px;width:59px;height:12.6px;background:#dc9c7e"></div><div class="a" style="left:535.0px;top:848.2px;width:59px;height:12.6px;background:#efd199"></div><div class="a" style="left:598.6px;top:848.2px;width:59px;height:12.6px;background:#dc9c7e"></div><div class="a" style="left:725.8px;top:848.2px;width:59px;height:12.6px;background:#b3304f"></div><div class="a" style="left:789.3px;top:848.2px;width:59px;height:12.6px;background:#dc9c7e"></div><div class="a" style="left:407.9px;top:861.9px;width:59px;height:12.6px;background:#e4b48a"></div><div class="a" style="left:535.0px;top:861.9px;width:59px;height:12.6px;background:#efd199"></div><div class="a" style="left:407.9px;top:875.5px;width:59px;height:12.6px;background:#efd199"></div><div class="a" style="left:535.0px;top:875.5px;width:59px;height:12.6px;background:#efd199"></div><div class="a" style="left:725.8px;top:875.5px;width:59px;height:12.6px;background:#efd199"></div><div class="a" style="left:789.3px;top:875.5px;width:59px;height:12.6px;background:#efd199"></div><div class="a" style="left:407.9px;top:889.2px;width:59px;height:12.6px;background:#efd199"></div><div class="a" style="left:407.9px;top:902.8px;width:59px;height:12.6px;background:#e4b48a"></div><div class="a" style="left:471.5px;top:902.8px;width:59px;height:12.6px;background:#d4806f"></div><div class="a" style="left:535.0px;top:902.8px;width:59px;height:12.6px;background:#dc9c7e"></div><div class="a" style="left:598.6px;top:902.8px;width:59px;height:12.6px;background:#c76668"></div><div class="a" style="left:662.2px;top:902.8px;width:59px;height:12.6px;background:#e4b48a"></div><div class="a" style="left:789.3px;top:902.8px;width:59px;height:12.6px;background:#efd199"></div><div class="a" style="left:407.9px;top:916.4px;width:59px;height:12.6px;background:#b3304f"></div><div class="a" style="left:471.5px;top:916.4px;width:59px;height:12.6px;background:#e4b48a"></div><div class="a" style="left:535.0px;top:916.4px;width:59px;height:12.6px;background:#b3304f"></div><div class="a" style="left:598.6px;top:916.4px;width:59px;height:12.6px;background:#b3304f"></div><div class="a" style="left:725.8px;top:916.4px;width:59px;height:12.6px;background:#efd199"></div>
<div id="scroll"></div>
<div id="thumb"></div>
<div class="a" style="left:1415px;top:888px;width:62px;height:32px;background:#3b82f6;border-radius:3px 3px 0 0;box-shadow:0 0 8px rgba(0,0,0,.18);color:#fff;font-size:11px;line-height:30px;padding-left:12px">Help &#x1F44B;</div>
</body></html>
